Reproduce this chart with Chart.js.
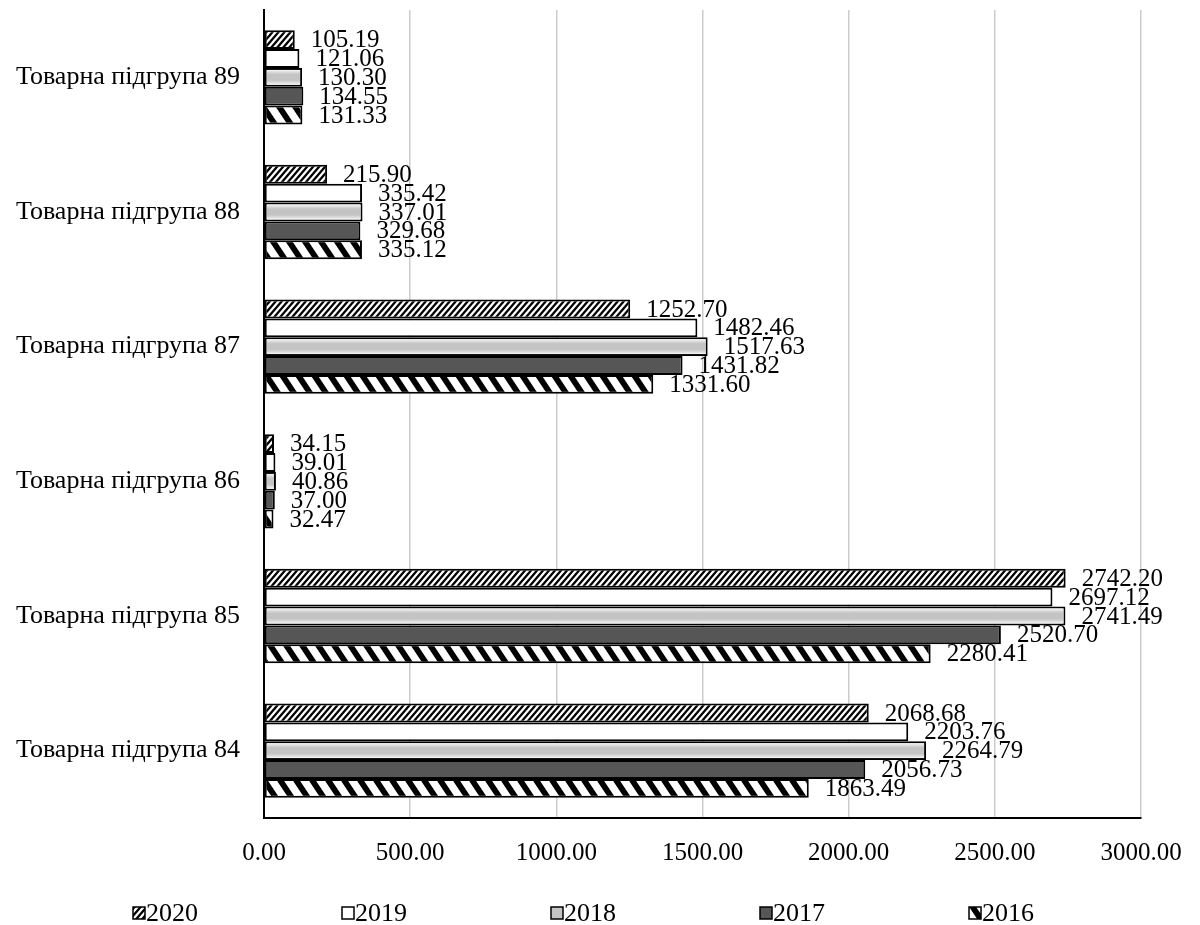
<!DOCTYPE html>
<html lang="uk">
<head>
<meta charset="utf-8">
<title>Товарні підгрупи 84–89</title>
<script src="https://cdn.jsdelivr.net/npm/chart.js@4.4.1/dist/chart.umd.min.js"></script>
<style>
  html, body { margin: 0; padding: 0; background: #fff; }
  #wrap { width: 1200px; height: 925px; }
</style>
</head>
<body>
<div id="wrap"><canvas id="chart" width="1200" height="925"></canvas></div>
<script>
// Categories, top to bottom
const categories = [
  'Товарна підгрупа 89',
  'Товарна підгрупа 88',
  'Товарна підгрупа 87',
  'Товарна підгрупа 86',
  'Товарна підгрупа 85',
  'Товарна підгрупа 84'
];

// Series, one per year
const years = ['2020', '2019', '2018', '2017', '2016'];
const values2020 = [105.19, 215.90, 1252.70, 34.15, 2742.20, 2068.68];
const values2019 = [121.06, 335.42, 1482.46, 39.01, 2697.12, 2203.76];
const values2018 = [130.30, 337.01, 1517.63, 40.86, 2741.49, 2264.79];
const values2017 = [134.55, 329.68, 1431.82, 37.00, 2520.70, 2056.73];
const values2016 = [131.33, 335.12, 1331.60, 32.47, 2280.41, 1863.49];

// Value axis
const axisMin = 0;
const axisMax = 3000;
const axisStep = 500;

const SERIF = "'Liberation Serif', 'Times New Roman', 'DejaVu Serif', serif";

const canvas = document.getElementById('chart');
const ctx = canvas.getContext('2d');

// Diagonal stripe fills: "/" when forward is true, "\" otherwise
function stripes(w, h, lineW, forward) {
  const c = document.createElement('canvas');
  c.width = w; c.height = h;
  const g = c.getContext('2d');
  g.fillStyle = '#ffffff';
  g.fillRect(0, 0, w, h);
  g.strokeStyle = '#000000';
  g.lineWidth = lineW;
  g.lineCap = 'square';
  for (const dx of [-w, 0, w]) {
    g.beginPath();
    if (forward) { g.moveTo(dx, h); g.lineTo(dx + w, 0); }
    else { g.moveTo(dx, 0); g.lineTo(dx + w, h); }
    g.stroke();
  }
  return ctx.createPattern(c, 'repeat');
}

const fills = {
  '2020': stripes(6, 7, 2.3, true),
  '2019': '#ffffff',
  '2018': '#c4c4c4',
  '2017': '#565656',
  '2016': stripes(16, 24, 5.8, false)
};

const seriesValues = [values2020, values2019, values2018, values2017, values2016];

const datasets = years.map((y, i) => ({
  label: y,
  data: seriesValues[i],
  backgroundColor: fills[y],
  borderColor: '#000000',
  borderWidth: 2,
  borderSkipped: false,
  barPercentage: 1.0,
  categoryPercentage: 0.70
}));

// Soft light rim inside the 2018 bars
const softRim = {
  id: 'softRim',
  afterDatasetDraw(chart, args) {
    const ds = chart.data.datasets[args.index];
    if (ds.label !== '2018') return;
    const c = chart.ctx;
    c.save();
    args.meta.data.forEach((bar) => {
      const p = bar.getProps(['x', 'y', 'base', 'height'], true);
      const left = Math.min(p.base, p.x) + 2;
      const right = Math.max(p.base, p.x) - 2;
      const top = p.y - p.height / 2 + 2;
      const h = p.height - 4;
      if (right - left <= 0 || h <= 0) return;
      const g = c.createLinearGradient(0, top, 0, top + h);
      g.addColorStop(0, '#f4f4f4');
      g.addColorStop(0.3, '#c4c4c4');
      g.addColorStop(0.7, '#c4c4c4');
      g.addColorStop(1, '#f4f4f4');
      c.fillStyle = g;
      c.fillRect(left, top, right - left, h);
    });
    c.restore();
  }
};

// Value labels just past the end of each bar
const valueLabels = {
  id: 'valueLabels',
  afterDatasetsDraw(chart) {
    const c = chart.ctx;
    c.save();
    c.font = '25px ' + SERIF;
    c.fillStyle = '#000';
    c.textAlign = 'left';
    c.textBaseline = 'middle';
    chart.data.datasets.forEach((ds, di) => {
      const meta = chart.getDatasetMeta(di);
      meta.data.forEach((bar, i) => {
        c.fillText(Number(ds.data[i]).toFixed(2), bar.x + 16, bar.y + 1);
      });
    });
    c.restore();
  }
};

// Legend row under the axis: swatch followed directly by the year
const legendRow = {
  id: 'legendRow',
  afterDraw(chart) {
    const c = chart.ctx;
    c.save();
    c.font = '26px ' + SERIF;
    c.textAlign = 'left';
    c.textBaseline = 'middle';
    const y = 913;
    const box = 12;
    const startX = 133;
    const step = 209;
    chart.data.datasets.forEach((ds, i) => {
      const x = startX + i * step;
      c.fillStyle = ds.backgroundColor;
      c.fillRect(x, y - box / 2, box, box);
      c.strokeStyle = '#000';
      c.lineWidth = 1.5;
      c.strokeRect(x, y - box / 2, box, box);
      c.fillStyle = '#000';
      c.fillText(ds.label, x + box + 1, y + 1);
    });
    c.restore();
  }
};

new Chart(ctx, {
  type: 'bar',
  data: { labels: categories, datasets },
  plugins: [softRim, valueLabels, legendRow],
  options: {
    indexAxis: 'y',
    responsive: false,
    animation: false,
    devicePixelRatio: 1,
    layout: { padding: { left: 0, right: 59, top: 10, bottom: 57 } },
    plugins: {
      legend: { display: false },
      tooltip: { enabled: false },
      title: { display: false }
    },
    scales: {
      x: {
        type: 'linear',
        position: 'bottom',
        min: axisMin,
        max: axisMax,
        afterFit(scale) {
          scale.height = 50;
          scale.paddingLeft = 0;
          scale.paddingRight = 0;
        },
        ticks: {
          stepSize: axisStep,
          padding: 20,
          color: '#000',
          font: { family: SERIF, size: 25 },
          callback: (v) => Number(v).toFixed(2)
        },
        grid: { color: '#cccccc', lineWidth: 1.5, drawTicks: false },
        border: { display: true, color: '#000', width: 2 }
      },
      y: {
        type: 'category',
        position: 'left',
        afterFit(scale) {
          scale.width = 264;
          scale.paddingTop = 0;
          scale.paddingBottom = 0;
        },
        ticks: {
          padding: 24,
          color: '#000',
          font: { family: SERIF, size: 26 }
        },
        grid: { display: false, drawTicks: false },
        border: { display: true, color: '#000', width: 2 }
      }
    }
  }
});
</script>
</body>
</html>
